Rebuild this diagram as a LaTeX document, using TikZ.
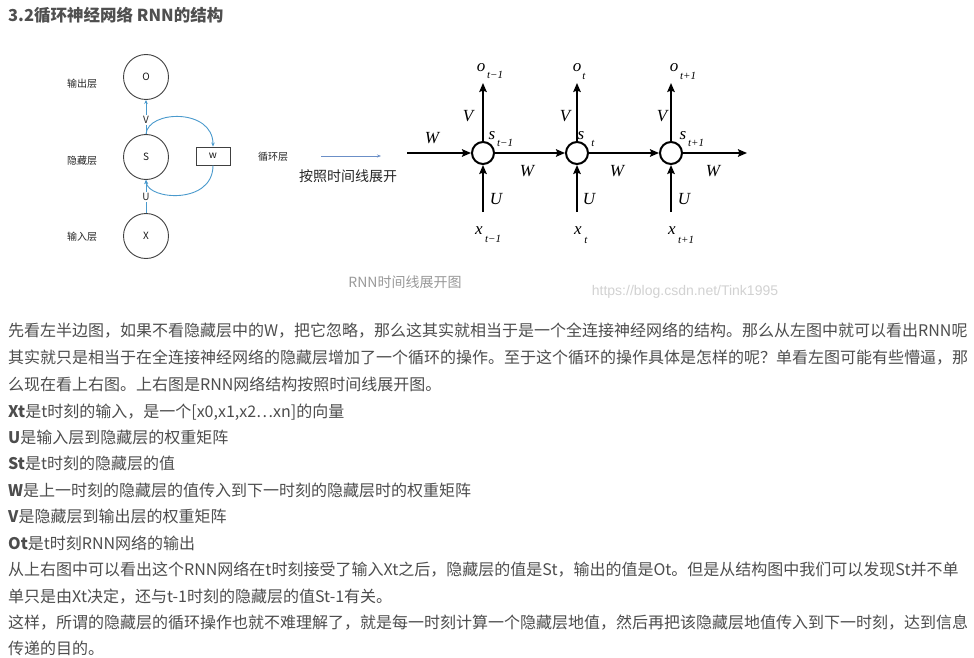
\documentclass[tikz,border=0pt]{standalone}
\usepackage{fontspec}
\setmainfont{Noto Sans CJK SC}
\newfontfamily\tms{Liberation Serif}
\newfontfamily\ars{Liberation Sans}
\usetikzlibrary{arrows.meta}
\definecolor{txt}{HTML}{4D4D4D}
\definecolor{ttl}{HTML}{4F4F4F}
\definecolor{lblue}{HTML}{4A9ACD}
\definecolor{cgray}{HTML}{404040}
\definecolor{capg}{HTML}{999999}
\definecolor{wmk}{HTML}{D2D2D2}
\definecolor{midarr}{HTML}{6B8FC7}
\tikzset{
  body/.style={anchor=base west, inner sep=0pt, text=txt, font=\fontsize{16}{16}\selectfont},
  lcirc/.style={circle, draw=cgray, line width=0.9pt, minimum size=45pt, inner sep=0pt, font=\fontsize{10}{10}\selectfont, text=black!90},
  llab/.style={inner sep=0pt, font=\fontsize{10}{10}\selectfont, text=black!85},
  lsmall/.style={inner sep=1pt, fill=white, font=\fontsize{10}{10}\selectfont, text=black!85},
  barrow/.style={draw=lblue, line width=0.9pt, -{Stealth[length=4pt,width=3.5pt]}},
  rcirc/.style={circle, draw=black, line width=2pt, minimum size=22pt, inner sep=0pt},
  rarrow/.style={draw=black, line width=2.2pt, -{Stealth[length=9pt,width=7.5pt,inset=1.5pt]}},
  rlet/.style={inner sep=0pt, font=\tms\itshape\fontsize{17}{17}\selectfont},
  rsub/.style={inner sep=0pt, font=\tms\itshape\fontsize{11}{11}\selectfont},
}
\begin{document}
\begin{tikzpicture}[x=1pt,y=-1pt]
\useasboundingbox (0,0) rectangle (974,658);
\fill[white] (0,0) rectangle (974,658);
% title
\node[anchor=base west, inner sep=0pt, text=ttl, font=\bfseries\fontsize{16.5}{16.5}\selectfont] (title) at (8,21.5) {3.2循环神经网络 RNN的结构};
% ---------- left diagram
\node[lcirc] (O) at (146,77) {O};
\node[lcirc] (S) at (146,157) {S};
\node[lcirc] (X) at (146,236) {X};
\node[draw=cgray, line width=0.9pt, minimum width=34pt, minimum height=18pt, inner sep=0pt, font=\fontsize{10}{10}\selectfont, text=black!90] (Wb) at (213,156) {w};
\node[llab] (lo) at (82,84) {输出层};
\node[llab] (lh) at (82,161) {隐藏层};
\node[llab] (li) at (82,237) {输入层};
\node[llab] (lr) at (273,157) {循环层};
\draw[barrow] (S.north) -- (O.south);
\draw[barrow] (X.north) -- (S.south);
\node[lsmall] (Vl) at (146,120) {V};
\node[lsmall] (Ul) at (146,197) {U};
\draw[barrow] (S.north) .. controls (148,110) and (213,108) .. (Wb.north);
\draw[barrow] (Wb.south) .. controls (213,205) and (148,200) .. (S.south);
% middle arrow
\coordinate (ma) at (321,156);
\coordinate (mb) at (381,156);
\draw[draw=midarr, line width=0.7pt, -{Stealth[length=4pt,width=3pt]}] (ma) -- (mb);
\node[inner sep=0pt, text=black!85, font=\fontsize{14}{14}\selectfont] (unf) at (348,176) {按照时间线展开};
% ---------- right diagram
\foreach \n/\x in {a/483,b/577,c/671}{
  \node[rcirc] (c\n) at (\x,153) {};
  \coordinate (top\n) at (\x,83);
  \coordinate (bot\n) at (\x,212);
  \draw[rarrow] (c\n.north) -- (top\n);
  \draw[rarrow] (bot\n) -- (c\n.south);
}
\coordinate (lin) at (407,153);
\coordinate (lout) at (747,153);
\draw[rarrow] (lin) -- (ca.west);
\draw[rarrow] (ca.east) -- (cb.west);
\draw[rarrow] (cb.east) -- (cc.west);
\draw[rarrow] (cc.east) -- (lout);
% labels W
\node[rlet] (W0) at (432,138) {W};
\node[rlet] (W1) at (527,171) {W};
\node[rlet] (W2) at (617,171) {W};
\node[rlet] (W3) at (713,171) {W};
% V
\node[rlet] (V1) at (468,116) {V};
\node[rlet] (V2) at (565,116) {V};
\node[rlet] (V3) at (662,116) {V};
% U
\node[rlet] (U1) at (496,199) {U};
\node[rlet] (U2) at (589,199) {U};
\node[rlet] (U3) at (684,199) {U};
% o
\node[rlet] (o1) at (481,68) {o};
\node[rsub] (o1s) at (495,75) {t−1};
\node[rlet] (o2) at (577,68) {o};
\node[rsub] (o2s) at (584,76) {t};
\node[rlet] (o3) at (674,68) {o};
\node[rsub] (o3s) at (688,76) {t+1};
% s
\node[rlet] (s1) at (492,136) {s};
\node[rsub] (s1s) at (505,143) {t−1};
\node[rlet] (s2) at (581,136) {s};
\node[rsub] (s2s) at (593,143) {t};
\node[rlet] (s3) at (683,136) {s};
\node[rsub] (s3s) at (696,143) {t+1};
% x
\node[rlet] (x1) at (479,231) {x};
\node[rsub] (x1s) at (493,239) {t−1};
\node[rlet] (x2) at (578,231) {x};
\node[rsub] (x2s) at (586,240) {t};
\node[rlet] (x3) at (672,231) {x};
\node[rsub] (x3s) at (686,240) {t+1};
% caption & watermark
\node[inner sep=0pt, text=capg, font=\fontsize{14}{14}\selectfont] (cap) at (405,282) {RNN时间线展开图};
\node[inner sep=0pt, text=wmk, font=\ars\fontsize{14}{14}\selectfont] (wm) at (685,292) {https://blog.csdn.net/Tink1995};
% ---------- body text
\node[body] (t1) at (8,336) {先看左半边图，如果不看隐藏层中的W，把它忽略，那么这其实就相当于是一个全连接神经网络的结构。那么从左图中就可以看出RNN呢};
\node[body] (t2) at (8,363) {其实就只是相当于在全连接神经网络的隐藏层增加了一个循环的操作。至于这个循环的操作具体是怎样的呢？单看左图可能有些懵逼，那};
\node[body] (t3) at (8,390) {么现在看上右图。上右图是RNN网络结构按照时间线展开图。};
\node[body] (t4) at (8,417) {\textbf{Xt}是t时刻的输入，是一个[x0,x1,x2…xn]的向量};
\node[body] (t5) at (8,443) {\textbf{U}是输入层到隐藏层的权重矩阵};
\node[body] (t6) at (8,469) {\textbf{St}是t时刻的隐藏层的值};
\node[body] (t7) at (8,496) {\textbf{W}是上一时刻的隐藏层的值传入到下一时刻的隐藏层时的权重矩阵};
\node[body] (t8) at (8,522) {\textbf{V}是隐藏层到输出层的权重矩阵};
\node[body] (t9) at (8,549) {\textbf{Ot}是t时刻RNN网络的输出};
\node[body] (t10) at (8,575) {从上右图中可以看出这个RNN网络在t时刻接受了输入Xt之后，隐藏层的值是St，输出的值是Ot。但是从结构图中我们可以发现St并不单};
\node[body] (t11) at (8,602) {单只是由Xt决定，还与t-1时刻的隐藏层的值St-1有关。};
\node[body] (t12) at (8,628) {这样，所谓的隐藏层的循环操作也就不难理解了，就是每一时刻计算一个隐藏层地值，然后再把该隐藏层地值传入到下一时刻，达到信息};
\node[body] (t13) at (8,654) {传递的目的。};
\end{tikzpicture}
\end{document}
